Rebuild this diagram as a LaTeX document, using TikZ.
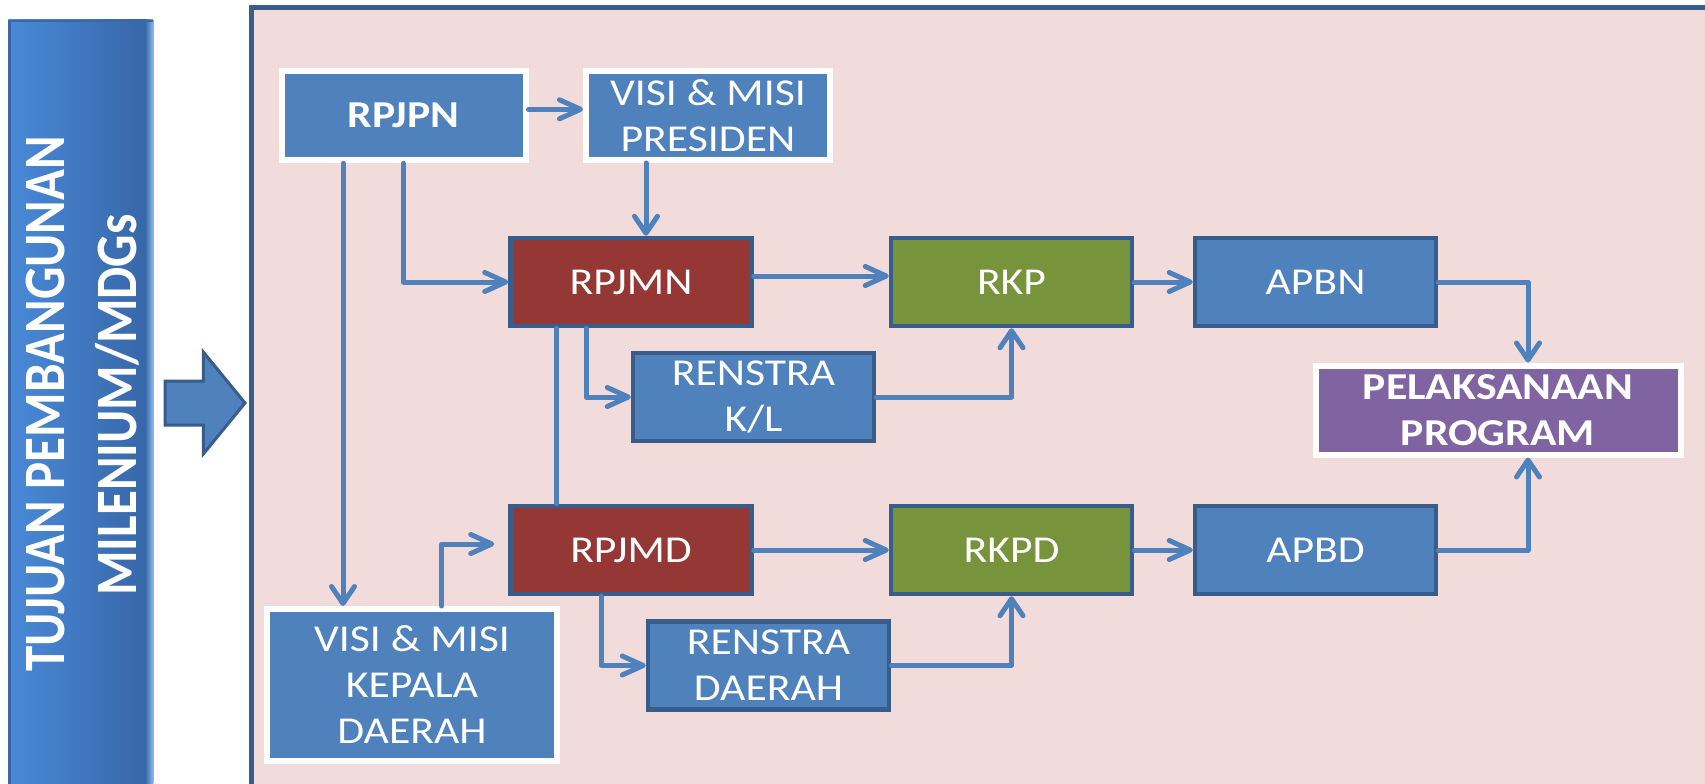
\documentclass[tikz,border=0pt]{standalone}
\usepackage{fontspec}
\usepackage{graphicx}
\setmainfont{Carlito}
\newfontfamily\boxfont[FakeStretch=1.15]{Carlito}
\usetikzlibrary{arrows.meta}
\definecolor{mainbg}{HTML}{F2DCDB}
\definecolor{dkblue}{HTML}{385D8A}
\definecolor{boxblue}{HTML}{4F81BD}
\definecolor{boxred}{HTML}{953735}
\definecolor{boxgreen}{HTML}{77933C}
\definecolor{boxpurple}{HTML}{8064A2}
\definecolor{lineblue}{HTML}{4F81BD}
\definecolor{barL}{HTML}{4A8AD8}
\definecolor{barR}{HTML}{3767A8}
\definecolor{barEdge}{HTML}{3C67A6}
\definecolor{barLight}{HTML}{8DB8EE}
\begin{document}
\begin{tikzpicture}[x=1pt,y=-1pt,
  box/.style={rectangle, draw=dkblue, line width=4.5pt, inner sep=0pt,
    minimum width=241pt, minimum height=88pt, text=white, align=center,
    font=\boxfont\fontsize{38}{46}\selectfont},
  wbox/.style={box, draw=white, line width=6pt, minimum width=244pt, minimum height=89pt},
  boldtext/.style={font=\boxfont\bfseries\fontsize{38}{46}\selectfont},
  bartext/.style={rotate=90, anchor=base, inner sep=0pt, text=white,
    font=\bfseries\fontsize{51}{60}\selectfont},
  conn/.style={draw=lineblue, line width=5pt, line join=round, line cap=round},
  arrH/.style={conn, -{Straight Barb[length=21pt,width=19pt,round]}},
  arrV/.style={conn, -{Straight Barb[length=17pt,width=23pt,round]}}]
\useasboundingbox (0,0) rectangle (1705,784);
\fill[white] (0,0) rectangle (1705,784);
\clip (0,0) rectangle (1705,784);
% main panel
\draw[fill=mainbg, draw=dkblue, line width=4.5pt] (251.5,7.5) rectangle (1712,792);
% left bar
\shade[left color=barL, right color=barR] (8.3,20) rectangle (145,786);
\shade[left color=barR, right color=barLight] (145,20) rectangle (153.3,786);
\fill[barEdge] (8.3,20) rectangle (153.3,22.5);
\fill[barEdge] (8.3,20) rectangle (10.8,786);
\node[bartext] (bar1) at (64,404) {\scalebox{1}[1.15]{TUJUAN PEMBANGUNAN}};
\node[bartext] (bar2) at (136.5,405) {\scalebox{1}[1.15]{MILENIUM/MDGs}};
% big arrow
\draw[fill=boxblue, draw=dkblue, line width=3pt, line join=miter]
  (165,381) -- (203.3,381) -- (203.3,352) -- (245,403) -- (203.3,454) -- (203.3,425) -- (165,425) -- cycle;
% nodes
\node[wbox, fill=boxblue, boldtext] (RPJPN) at (403.5,115.8) {RPJPN};
\node[wbox, fill=boxblue] (VISIP) at (708,115.5) {VISI \& MISI\\PRESIDEN};
\node[box, fill=boxred] (RPJMN) at (631,282) {RPJMN};
\node[box, fill=boxgreen] (RKP) at (1011.5,282) {RKP};
\node[box, fill=boxblue] (APBN) at (1315.5,282) {APBN};
\node[box, fill=boxblue] (RKL) at (753.5,397) {RENSTRA\\K/L};
\node[wbox, fill=boxpurple, boldtext, minimum width=365pt] (PEL) at (1498,410) {PELAKSANAAN\\PROGRAM};
\node[box, fill=boxred] (RPJMD) at (631,550) {RPJMD};
\node[box, fill=boxgreen] (RKPD) at (1011.5,550) {RKPD};
\node[box, fill=boxblue] (APBD) at (1315.5,550) {APBD};
\node[box, fill=boxblue] (RD) at (768.5,665.5) {RENSTRA\\DAERAH};
\node[wbox, fill=boxblue, minimum width=290pt, minimum height=152pt] (VK) at (412,685) {VISI \& MISI\\KEPALA\\DAERAH};
% helper coordinates
\coordinate (h109) at (0,109.3);
\coordinate (h276) at (0,276);
\coordinate (h544) at (0,544);
\coordinate (v343) at (343,0);
\coordinate (v441) at (441.6,0);
\coordinate (v556) at (556,0);
\coordinate (v586) at (586,0);
\coordinate (v601) at (601,0);
\coordinate (v646) at (646,0);
\coordinate (v1528) at (1528,0);
% connectors
\draw[arrH] (RPJPN.east |- h109) -- (VISIP.west |- h109);
\draw[arrV] (VISIP.south -| v646) -- (RPJMN.north -| v646);
\draw[arrH] (RPJPN.south) |- (RPJMN.west);
\draw[arrV] (RPJPN.south -| v343) -- (VK.north -| v343);
\draw[arrH] (RPJMN.east |- h276) -- (RKP.west |- h276);
\draw[arrH] (RKP.east) -- (APBN.west);
\draw[arrV] (APBN.east) -| (PEL.north -| v1528);
\draw[arrV] (RKL.east) -| (RKP.south);
\draw[arrH] (RPJMN.south -| v586) |- (RKL.west);
\draw[conn] (RPJMN.south -| v556) -- (RPJMD.north -| v556);
\draw[arrH, shorten >=14pt] (VK.north -| v441) |- (RPJMD.west |- h544);
\draw[arrH] (RPJMD.east) -- (RKPD.west);
\draw[arrH] (RKPD.east) -- (APBD.west);
\draw[arrV] (APBD.east) -| (PEL.south -| v1528);
\draw[arrH] (RPJMD.south -| v601) |- (RD.west);
\draw[arrV] (RD.east) -| (RKPD.south);
\end{tikzpicture}
\end{document}
